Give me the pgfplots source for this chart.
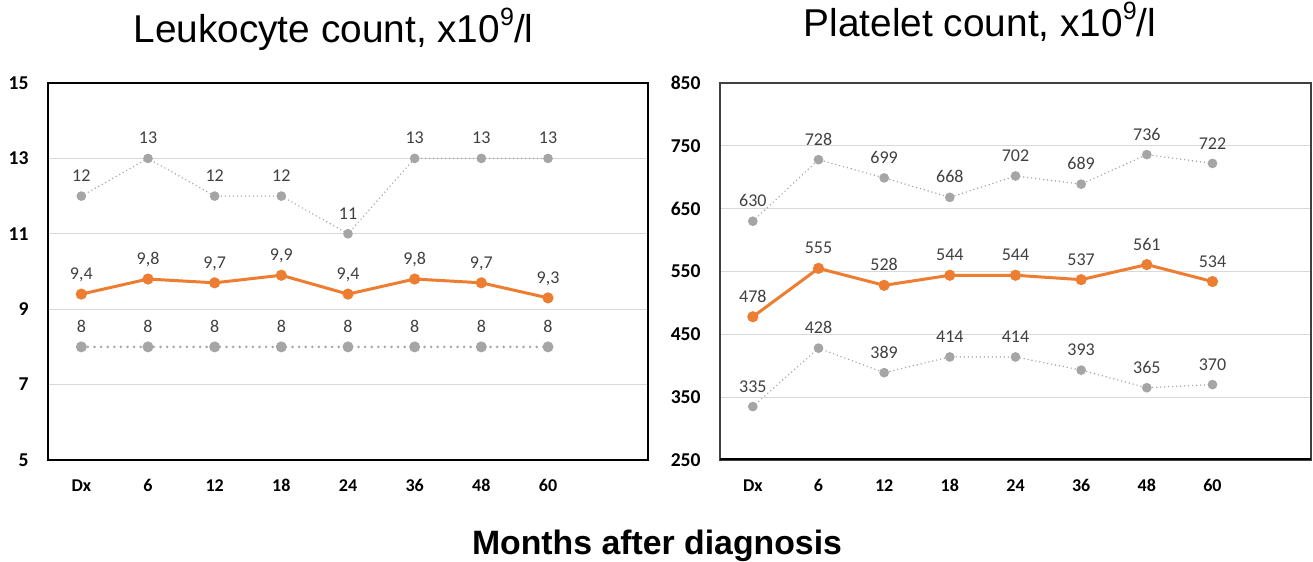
\documentclass[border=0pt]{standalone}
\usepackage{fontspec}
\setmainfont{Liberation Sans}
\newfontfamily\calibri{Carlito}
\usepackage{pgfplots}
\pgfplotsset{compat=1.18}
\definecolor{orangeS}{HTML}{ED7D31}
\definecolor{grayS}{HTML}{A5A5A5}
\definecolor{lblgray}{HTML}{404040}
\definecolor{gridc}{HTML}{D9D9D9}
\newcommand{\supnine}{\raisebox{8.7pt}{\fontsize{12.5}{13}\selectfont 9}}
\pgfplotsset{
  panel/.style={
    scale only axis, anchor=south west, height=188.5pt,
    xmin=-0.5, xmax=8.5, xtick={0,...,7},
    xticklabels={Dx,6,12,18,24,36,48,60},
    major tick length=0pt,
    /pgf/number format/assume math mode=true,
    ymajorgrids, grid style={gridc, line width=0.6pt},
    xticklabel style={font=\calibri\bfseries\fontsize{9}{10}\selectfont, anchor=base, yshift=-16pt, inner sep=0pt},
    yticklabel style={font=\calibri\bfseries\fontsize{9.8}{11}\selectfont, anchor=east, xshift=-9.5pt, inner sep=0pt},
    point meta=explicit symbolic,
    nodes near coords,
    every node near coord/.append style={font=\calibri\fontsize{9}{10}\selectfont, text=lblgray, anchor=base, yshift=7.2pt, inner sep=0pt},
  },
  mid/.style={orangeS, line width=1.5pt, mark=*, mark size=2pt, mark options={solid, fill=orangeS, draw=orangeS}},
  bound/.style={grayS, line width=0.8pt, dash pattern=on 0pt off 2pt, line cap=round, mark=*, mark size=2pt, mark options={solid, fill=grayS, draw=grayS}},
  boundthick/.style={grayS, line width=1.4pt, dash pattern=on 0pt off 3.3pt, line cap=round, mark=*, mark size=2pt, mark options={solid, fill=grayS, draw=grayS}},
}
\begin{document}
\begin{tikzpicture}
\path[use as bounding box] (0,0) rectangle (656.5pt,281pt);
% Leukocytes
\begin{axis}[panel, at={(24pt,51pt)}, width=300pt,
  ymin=5, ymax=15, ytick={5,7,9,11,13,15},
  axis line style={black, line width=1.4pt}]
\addplot[bound] table[x=x,y=y,meta=l] {
x y l
0 12 12
1 13 13
2 12 12
3 12 12
4 11 11
5 13 13
6 13 13
7 13 13
};
\addplot[boundthick] table[x=x,y=y,meta=l] {
x y l
0 8 8
1 8 8
2 8 8
3 8 8
4 8 8
5 8 8
6 8 8
7 8 8
};
\addplot[mid] table[x=x,y=y,meta=l] {
x y l
0 9.4 9,4
1 9.8 9,8
2 9.7 9,7
3 9.9 9,9
4 9.4 9,4
5 9.8 9,8
6 9.7 9,7
7 9.3 9,3
};
\end{axis}
% Platelets
\begin{axis}[panel, at={(360pt,51pt)}, width=295.5pt,
  ymin=250, ymax=850, ytick={250,350,...,850},
  axis line style={black!75, line width=0.6pt}]
\addplot[bound] table[x=x,y=y,meta=l] {
x y l
0 630 630
1 728 728
2 699 699
3 668 668
4 702 702
5 689 689
6 736 736
7 722 722
};
\addplot[bound] table[x=x,y=y,meta=l] {
x y l
0 335 335
1 428 428
2 389 389
3 414 414
4 414 414
5 393 393
6 365 365
7 370 370
};
\addplot[mid] table[x=x,y=y,meta=l] {
x y l
0 478 478
1 555 555
2 528 528
3 544 544
4 544 544
5 537 537
6 561 561
7 534 534
};
\draw[black, line width=1.5pt] (rel axis cs:0,0) -- (rel axis cs:1,0);
\end{axis}
\node[anchor=base, font=\fontsize{19.4}{22}\selectfont] at (166.75pt,259.5pt) {Leukocyte count, x10\supnine/l};
\node[anchor=base, font=\fontsize{19.4}{22}\selectfont] at (490pt,262.5pt) {Platelet count, x10\supnine/l};
\node[anchor=base, font=\bfseries\fontsize{16.9}{19}\selectfont] at (328.5pt,3.5pt) {Months after diagnosis};
\end{tikzpicture}
\end{document}
